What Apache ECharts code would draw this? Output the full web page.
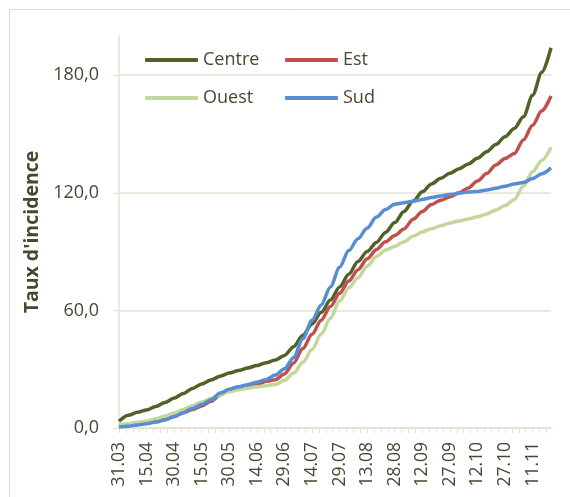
<!DOCTYPE html>
<html>
<head>
    <meta charset="utf-8">
    <title>Taux d'incidence</title>
    <script src="https://cdn.jsdelivr.net/npm/echarts@6/dist/echarts.min.js"></script>
</head>
<body style="margin:0">
    <div id="main" style="width: 570px;height:497px;"></div>
    <script type="text/javascript">
        var myChart = echarts.init(document.getElementById('main'));

// jours depuis le 31.03, un point tous les 5 jours
var days = [0, 5, 10, 15, 20, 25, 30, 35, 40, 45, 50, 55, 60, 65, 70, 75, 80, 85, 90, 95,
    100, 105, 110, 115, 120, 125, 130, 135, 140, 145, 150, 155, 160, 165, 170, 175, 180, 185, 190, 195,
    200, 205, 210, 215, 220, 225, 230, 235];

var dateLabels = ['31.03', '15.04', '30.04', '15.05', '30.05', '14.06', '29.06', '14.07',
    '29.07', '13.08', '28.08', '12.09', '27.09', '12.10', '27.10', '11.11'];

var centre = [3.4, 6.5, 8.0, 9.2, 11.0, 13.0, 15.3, 17.6, 20.2, 22.5, 24.5, 26.4, 28.0, 29.3, 30.6, 31.9,
    33.3, 34.7, 37.0, 41.5, 47.3, 53.0, 59.0, 65.3, 72.0, 78.5, 85.0, 90.0, 94.7, 99.8, 104.8, 110.5,
    115.8, 120.5, 124.5, 127.4, 130.0, 132.3, 134.7, 137.6, 140.9, 144.6, 148.6, 152.8, 158.8, 169.8, 181.5, 194.0];

var est = [1.0, 1.4, 2.0, 2.5, 3.3, 4.3, 6.0, 7.8, 9.4, 11.2, 13.6, 16.8, 19.3, 20.6, 21.5, 22.0,
    23.8, 24.6, 27.6, 33.2, 40.5, 47.8, 55.0, 62.0, 68.7, 75.0, 80.8, 86.3, 91.0, 95.0, 98.2, 101.5,
    106.5, 110.5, 114.0, 116.2, 118.0, 120.0, 122.5, 126.0, 129.8, 134.2, 137.5, 140.0, 147.0, 154.5, 161.8, 169.4];

var ouest = [1.7, 2.2, 2.9, 3.6, 4.7, 6.0, 7.6, 9.4, 11.4, 13.3, 15.1, 17.0, 18.5, 19.5, 20.3, 21.0,
    21.6, 22.2, 24.3, 28.0, 33.5, 40.0, 48.0, 56.0, 64.8, 71.5, 76.7, 82.5, 87.5, 90.8, 92.7, 95.0,
    97.8, 100.0, 101.6, 103.2, 104.6, 105.6, 106.6, 107.8, 109.2, 111.2, 113.5, 116.5, 123.5, 130.8, 136.5, 143.2];

var sud = [0.5, 0.9, 1.5, 2.2, 3.0, 4.1, 5.8, 7.8, 10.0, 12.0, 14.4, 17.8, 19.8, 21.0, 22.1, 23.4,
    24.8, 27.0, 30.2, 36.0, 45.5, 55.0, 62.8, 72.0, 82.0, 90.5, 96.5, 102.0, 107.6, 111.5, 114.2, 114.9,
    115.7, 116.6, 117.6, 118.4, 119.1, 119.8, 120.4, 120.7, 121.4, 122.3, 123.4, 124.5, 125.3, 127.3, 129.7, 132.7];

var textColor = '#4a4631';
var gridColor = '#e4e1d3';
var fontFamily = 'Open Sans';

function pairs(values) {
    return days.map(function (d, i) {
        return [d, values[i]];
    });
}

function lineSeries(name, values, color) {
    return {
        name: name,
        type: 'line',
        symbol: 'none',
        smooth: 0.3,
        smoothMonotone: 'x',
        lineStyle: { width: 3.5, color: color },
        itemStyle: { color: color },
        data: pairs(values)
    };
}

        option = {
    backgroundColor: '#fff',
    animation: false,
    textStyle: { fontFamily: fontFamily },
    graphic: [{
        type: 'rect',
        shape: { x: 9.5, y: 9.5, width: 700, height: 700 },
        style: { fill: 'none', stroke: '#dcdcd4', lineWidth: 1 },
        silent: true
    }],
    legend: {
        left: 145,
        top: 47,
        width: 300,
        padding: 0,
        icon: 'roundRect',
        itemWidth: 53,
        itemHeight: 4,
        itemGap: 12,
        textStyle: { color: textColor, fontSize: 18, width: 70, lineHeight: 26, fontFamily: fontFamily },
        data: ['Centre', 'Est', 'Ouest', 'Sud']
    },
    grid: {
        left: 119,
        right: 19,
        top: 36,
        bottom: 69
    },
    xAxis: {
        type: 'value',
        min: 0,
        max: 235,
        interval: 3.75,
        axisLine: { show: true, lineStyle: { color: gridColor, width: 1.5 } },
        axisTick: { show: true, length: 5, lineStyle: { color: gridColor } },
        splitLine: { show: false },
        axisLabel: {
            rotate: 90,
            margin: 14,
            color: textColor,
            fontSize: 17.5,
            showMaxLabel: false,
            formatter: function (v) {
                var k = Math.round(v / 15);
                if (Math.abs(v - k * 15) < 1e-6 && k < dateLabels.length) {
                    return dateLabels[k];
                }
                return '';
            }
        }
    },
    yAxis: {
        type: 'value',
        min: 0,
        max: 200,
        interval: 60,
        name: "Taux d'incidence",
        nameLocation: 'middle',
        nameGap: 76,
        nameTextStyle: { color: textColor, fontSize: 19.5, fontWeight: 'bold', fontFamily: fontFamily },
        axisLine: { show: true, lineStyle: { color: gridColor, width: 1.5 } },
        axisTick: { show: true, length: 6, lineStyle: { color: gridColor } },
        splitLine: {
            show: true,
            lineStyle: { color: [gridColor, gridColor, gridColor, gridColor, 'rgba(0,0,0,0)'], width: 1.5 }
        },
        axisLabel: {
            margin: 20,
            color: textColor,
            fontSize: 18,
            showMaxLabel: false,
            formatter: function (v) {
                return v.toFixed(1).replace('.', ',');
            }
        }
    },
    series: [
        lineSeries('Centre', centre, '#4f6228'),
        lineSeries('Est', est, '#c0504d'),
        lineSeries('Ouest', ouest, '#c3d69b'),
        lineSeries('Sud', sud, '#558ed5')
    ]
};

        myChart.setOption(option);
    </script>
</body>
</html>
